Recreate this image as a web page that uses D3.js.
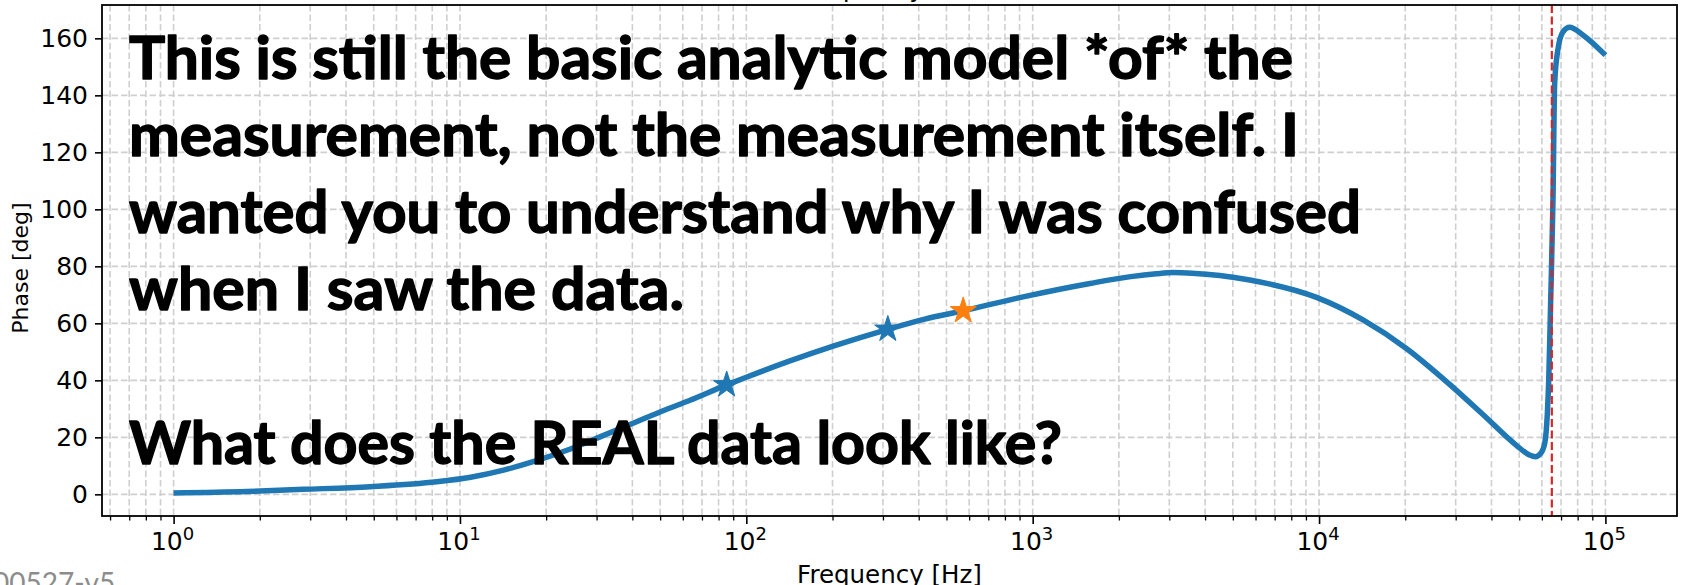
<!DOCTYPE html>
<html>
<head>
<meta charset="utf-8">
<script src="https://cdn.jsdelivr.net/npm/d3@7"></script>
<style>
  body { margin: 0; background: #fff; }
  svg { display: block; }
</style>
</head>
<body>
<svg id="chart"></svg>
<script>
// phase of the analytic model
const freqHz = [1, 1.8, 2.84, 4.86, 8.3, 10.9, 14.2, 18.5, 24.3, 31.6, 41.4, 52, 63.6, 85.4, 100, 142, 201, 312, 420, 572,
  926, 1585, 2200, 2700, 3100, 3600, 4500, 5730, 9800, 14240, 20180, 28580, 37350, 48870, 54300, 57000, 59400,
  61400, 62700, 63400, 64400, 65600, 66500, 68200, 71100, 75000, 83400, 100000];
const phaseDeg = [0.5, 1.0, 1.75, 2.7, 4.4, 6.0, 8.5, 11.8, 15.9, 20.6, 25.5, 29.6, 33.0, 38.4, 41.1, 46.8, 52.0, 57.9, 61.5, 64.4,
  69.3, 74.0, 76.4, 77.4, 77.8, 77.6, 76.8, 75.2, 69.1, 61.2, 51.2, 38.6, 28.0, 17.2, 13.8, 13.2, 14.3,
  17.9, 28.4, 40.1, 68, 103, 144.2, 155.9, 162.3, 163.9, 161.2, 154.1];

// star markers
const markerFreq = [85.4, 312, 572];
const markerPhase = [38.4, 57.9, 64.4];
const markerColor = ["#1f77b4", "#1f77b4", "#ff7f0e"];

const cutoffHz = 65000;

const yTicks = [0, 20, 40, 60, 80, 100, 120, 140, 160];
const xDecades = [0, 1, 2, 3, 4, 5];

const noteLines = [
  "This is still the basic analytic model *of* the",
  "measurement, not the measurement itself. I",
  "wanted you to understand why I was confused",
  "when I saw the data.",
  "",
  "What does the REAL data look like?"
];
const noteLineEnds = [1293, 1299, 1361, 684, 0, 1062];

const W = 1681, H = 585;
const margin = { top: 5, right: 4, bottom: 69, left: 102 };

const svg = d3.select("#chart").attr("width", W).attr("height", H);
svg.append("rect").attr("width", W).attr("height", H).attr("fill", "#fff");

const x = d3.scaleLog()
  .domain([Math.pow(10, -0.25), Math.pow(10, 5.25)])
  .range([margin.left, W - margin.right]);
const y = d3.scaleLinear()
  .domain([-7.6, 171.7])
  .range([H - margin.bottom, margin.top]);

const plotTop = margin.top, plotBottom = H - margin.bottom;
const plotLeft = margin.left, plotRight = W - margin.right;

// minor x positions 2..9 per decade
const minorX = [];
for (let k = -1; k <= 5; k++) {
  for (let m = 2; m <= 9; m++) {
    const v = m * Math.pow(10, k);
    if (v > x.domain()[0] && v < x.domain()[1]) minorX.push(v);
  }
}
const majorX = xDecades.map(k => Math.pow(10, k));

// grid
const grid = svg.append("g")
  .attr("stroke", "#cfcfcf")
  .attr("stroke-width", 1.6)
  .attr("stroke-dasharray", "6.5,3");
grid.selectAll(".gx")
  .data(majorX.concat(minorX))
  .join("line")
  .attr("x1", d => x(d)).attr("x2", d => x(d))
  .attr("y1", plotTop).attr("y2", plotBottom);
grid.selectAll(".gy")
  .data(yTicks)
  .join("line")
  .attr("x1", plotLeft).attr("x2", plotRight)
  .attr("y1", d => y(d)).attr("y2", d => y(d));

// phase curve
const pts = freqHz.map((f, i) => [f, phaseDeg[i]]);
svg.append("path")
  .datum(pts)
  .attr("fill", "none")
  .attr("stroke", "#1f77b4")
  .attr("stroke-width", 5.5)
  .attr("stroke-linejoin", "round")
  .attr("d", d3.line()
    .x(d => x(d[0]))
    .y(d => y(d[1]))
    .curve(d3.curveMonotoneX));

// stars
svg.selectAll(".star")
  .data(markerFreq)
  .join("path")
  .attr("d", d3.symbol(d3.symbolStar).size(215))
  .attr("transform", (d, i) => `translate(${x(d)},${y(markerPhase[i])})`)
  .attr("fill", (d, i) => markerColor[i])
  .attr("stroke", (d, i) => markerColor[i])
  .attr("stroke-width", 1)
  .attr("stroke-linejoin", "round");

// red dashed marker
svg.append("line")
  .attr("x1", x(cutoffHz)).attr("x2", x(cutoffHz))
  .attr("y1", plotTop).attr("y2", plotBottom)
  .attr("stroke", "#d62728")
  .attr("stroke-width", 2.2)
  .attr("stroke-dasharray", "8,3.5");

// axes
const font = "'DejaVu Sans', sans-serif";

const yAxis = svg.append("g")
  .attr("transform", `translate(${plotLeft},0)`)
  .call(d3.axisLeft(y).tickValues(yTicks).tickSize(7).tickPadding(7));
yAxis.select(".domain").remove();
yAxis.selectAll(".tick line").attr("stroke", "#000").attr("stroke-width", 1.6);
yAxis.selectAll(".tick text")
  .attr("font-family", font).attr("font-size", 25).attr("fill", "#000");

const xMinor = svg.append("g")
  .attr("transform", `translate(0,${plotBottom})`)
  .call(d3.axisBottom(x).tickValues(minorX).tickSize(4.5).tickFormat(""));
xMinor.select(".domain").remove();
xMinor.selectAll(".tick line").attr("stroke", "#000").attr("stroke-width", 1.3);

const xAxis = svg.append("g")
  .attr("transform", `translate(0,${plotBottom})`)
  .call(d3.axisBottom(x).tickValues(majorX).tickSize(8).tickFormat(""));
xAxis.select(".domain").remove();
xAxis.selectAll(".tick line").attr("stroke", "#000").attr("stroke-width", 1.6);

const xl = svg.append("g").attr("font-family", font).attr("fill", "#000");
xDecades.forEach(k => {
  const t = xl.append("text")
    .attr("x", x(Math.pow(10, k)) - 1)
    .attr("y", plotBottom + 34)
    .attr("text-anchor", "middle")
    .attr("font-size", 25);
  t.append("tspan").text("10");
  t.append("tspan").attr("dy", -10).attr("font-size", 18).text(k);
});

// frame
svg.append("rect")
  .attr("x", plotLeft).attr("y", plotTop)
  .attr("width", plotRight - plotLeft).attr("height", plotBottom - plotTop)
  .attr("fill", "none")
  .attr("stroke", "#000")
  .attr("stroke-width", 1.8);

// axis titles
svg.append("text")
  .attr("x", (plotLeft + plotRight) / 2).attr("y", 583)
  .attr("text-anchor", "middle")
  .attr("font-family", font).attr("font-size", 24.5)
  .text("Frequency [Hz]");
// clipped label of the panel above
svg.append("text")
  .attr("x", (plotLeft + plotRight) / 2).attr("y", -3.5)
  .attr("text-anchor", "middle")
  .attr("font-family", font).attr("font-size", 24.5)
  .text("Frequency [Hz]");
svg.append("text")
  .attr("transform", `translate(28,268) rotate(-90)`)
  .attr("text-anchor", "middle")
  .attr("font-family", font).attr("font-size", 22)
  .text("Phase [deg]");

// overlay note
const note = svg.append("g")
  .attr("font-family", "Lato, 'Open Sans', sans-serif")
  .attr("font-weight", 700)
  .attr("font-size", 58.5)
  .attr("fill", "#000")
  .attr("stroke", "#000")
  .attr("stroke-width", 1.4)
  .attr("stroke-linejoin", "round");
noteLines.forEach((s, i) => {
  if (!s) return;
  note.append("text")
    .attr("x", 129)
    .attr("y", 79 + i * 77)
    .attr("textLength", noteLineEnds[i] - 129)
    .attr("lengthAdjust", "spacingAndGlyphs")
    .text(s);
});

// footer tag, cut by the page edge
svg.append("text")
  .attr("x", -7).attr("y", 593)
  .attr("font-family", "Lato, sans-serif")
  .attr("font-size", 28)
  .attr("fill", "#8c8c8c")
  .text("00527-v5");
</script>
</body>
</html>
